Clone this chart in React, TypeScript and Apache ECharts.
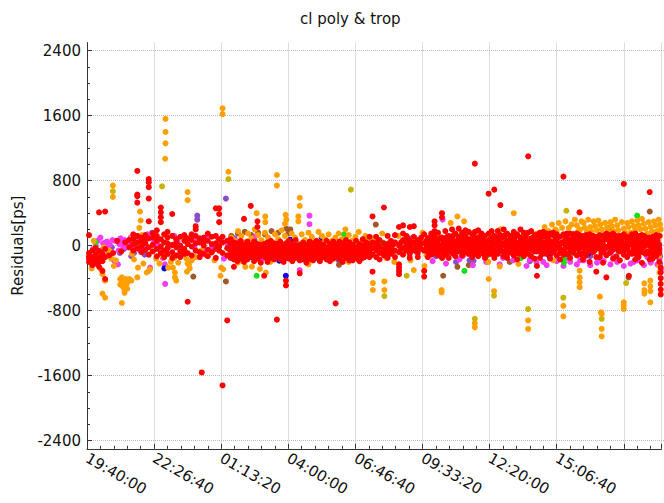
import React, { useEffect, useRef } from 'react';
import * as echarts from 'echarts';

const START_SEC = 19 * 3600 + 40 * 60;
const X_MAX = 85600;
const X_INTERVAL = 10000;
const TITLE = 'cl poly & trop';
const Y_NAME = 'Residuals[ps]';

// red: columns [time offset (s), residuals (ps)]
const redCols: [number, number[]][] = [
  [300, [130, -90, -160, -200, -130]], [800, [-60, -140, -240, -190]], [1300, [-110, -180, -30, -220]],
  [1800, [-150, -70, 410, -260, -200]], [2300, [-100, -190, -310, -150]], [2700, [420, -40, -140, -410]],
  [3300, [-120]], [3900, [-90]], [4500, [60]], [5100, [-70]], [5700, [40]],
  [6300, [70, -20]], [6900, [90, 20, -60, 140]], [7500, [920, 630, 610, 530, 120, 40, -30]],
  [8100, [60, -10, 100, -80]], [8700, [130, 30, -50, 80]], [9200, [820, 780, 720, 580, 300, 90, -20, -110]],
  [9800, [100, 10, -70, 150]], [10400, [60, -40, 120, -130, 190]], [11000, [470, 410, 350, 290, 80, -10, -90]],
  [11500, [140, 40, -60, -140]], [12000, [100, -30, 30, -100, 170]], [12700, [390, 120, 10, -80, -150]],
  [13300, [80, -20, -120, 40]], [13900, [110, 0, -70, -140]], [14500, [60, -40, 130, -100]],
  [15000, [20, -90, 90, -690]], [15600, [70, -10, -120, 140]], [16200, [120, 30, -60, 240, 200]],
  [16800, [40, -80, -140, 90]], [17100, [-1560]], [17400, [100, 0, -100, 50]], [18000, [60, -50, 150, -130]],
  [18600, [110, 20, -80]], [19200, [460, 30, -40, -150, 120]], [19700, [460, 390, 290, 80, -60, -10]],
  [20200, [-1720, 40, -90, 110]], [20900, [-920, 60, -30, -120]],
  [21400, [20, -60, -150, 80, -110]], [21900, [-260, -20, -100, 40, -170]], [22400, [-50, -130, 30, -190, -80]],
  [22900, [0, -80, -160, 60, -120]], [23400, [330, -40, -120, 10, -200]], [23900, [-10, -90, -170, 50, -60]],
  [24400, [490, 10, -70, -140, -30]], [24900, [-30, -110, 50, -190, -150]], [25400, [300, 230, -20, -90, -160, 20]],
  [25900, [-50, -130, 10, -210, -100]], [26400, [-370, 20, -60, -130, -20]], [26900, [-40, -120, 40, -200, -80]],
  [27400, [0, -80, -150, 60, -110]], [27900, [-30, -100, -170, 30, -60]], [28300, [-910, -50, -130, 20, -90]],
  [28800, [-20, -100, -170, 50, -140]], [29300, [-60, -140, 10, -200, -30]], [29650, [-430, -490, -60, -140, 30]],
  [30100, [-10, -90, 60, -160, -120]], [30600, [-40, -120, 20, -190, -70]], [31100, [0, -70, -150, 70, -110]],
  [31700, [-340, -30, -110, -180, 10]], [32200, [-20, -100, 40, -170, -60]], [32700, [-60, -140, 10, -210, -100]],
  [33200, [-10, -90, 50, -160, -40]], [33700, [-40, -120, 30, -80, -180]], [34200, [0, -80, -150, 60, -30]],
  [34700, [-30, -110, 40, -190, -70]], [35200, [-60, -140, 10, -100, -20]], [35700, [-20, -100, 60, -170, -130]],
  [36200, [-50, -130, 20, -80, -190]], [36700, [-10, -90, -160, 50, -40]], [37050, [-710, -50, -130, 20, -100]],
  [37600, [-10, -90, -160, 50, -60]], [38100, [-40, -120, 30, -200, -80]], [38600, [0, -80, 70, -150, -40]],
  [39100, [-30, -110, 40, -60, -180]], [39600, [-60, -140, 10, -180, -20]], [40100, [-20, -100, 60, -130, -60]],
  [40600, [-50, -130, 20, -190, 0]], [41100, [0, -80, 80, -150, -40]], [41600, [-30, -110, 40, -70]],
  [42100, [-60, -140, 20, 110]], [42550, [360, -30, -110, -320, 40]],
  [43100, [-60, -140, 20, 110, -20]], [43600, [-10, -90, 70, -170]], [44250, [470, -40, -120, 30, -70]],
  [44800, [20, -70, 120, -150]], [45300, [-20, -100, 60, -50]], [45900, [40, -60, -140, 130]],
  [46500, [230, -230, -270, -310, -350, 0, -80]], [47100, [250, 150, -30, -110, 70]], [47600, [20, -60, 120, -20]],
  [48100, [230, -20, -100, 60, -150]], [48700, [240, 40, -50, 110]], [49300, [-10, -90, 70, -140]],
  [49800, [30, -40, 100]], [50250, [-310, -380, 30, -60, 140]], [50800, [0, -80, 90, -140]],
  [51300, [60, -30, 150, -110, 10]], [51800, [300, 250, 180, 20, -70, 110]], [52300, [-40, 60, -120, 160, 0]],
  [52900, [400, 350, 10, -80, 100, -150]], [53400, [70, -20, 180, -110, 30]], [53900, [30, -60, 120, -150, -10]],
  [54400, [100, 0, 200, -90, 50]], [54900, [50, -40, 150, -130, -80]], [55400, [110, 20, -70, 210, -10]],
  [55900, [60, -30, 160, -120, 10]], [56400, [10, -80, 120, 190, -40]], [56900, [80, -20, 170, -100, 30]],
  [57400, [40, -60, 140, -140, -10]], [57800, [1010, 80, -20, 170, -90]], [58300, [100, 10, -80, 190, -130]],
  [58800, [60, -30, 150, -60, 0]], [59300, [20, -70, 120, -150, 50]], [59850, [640, 60, -30, 150, -100]],
  [60300, [90, 0, 180, -100, 30]], [60700, [690, 20, -70, 120, -150]], [61200, [90, 0, 180, -100, 40]],
  [61600, [500, 40, -60, 130, -20]], [62100, [110, 20, -80, 200, -130]], [62600, [60, -30, 150, -150, 0]],
  [63100, [10, -80, 120, -40, 70]], [63600, [80, -10, 170, -120, 30]], [64100, [40, -60, 140, -170, -20]],
  [64600, [100, 0, 200, -90, 50]], [65100, [60, -40, 160, -130, 10]], [65750, [1100, 50, -40, 160, -100]],
  [66200, [90, -20, 180, -130, 30]], [66700, [40, -70, 130, -160, 0]], [67050, [-370, -250, 30, -70, 130]],
  [67500, [70, -30, 160, -150, 20]], [68000, [20, -80, 120, 170, -40]], [68500, [100, 0, -100, 150, 50]],
  [69000, [50, -50, 150, -160, 10]], [69500, [130, 30, -70, 160, -20]], [70000, [80, -20, 140, -120, 40]],
  [70500, [20, -90, 110, -170, -40]], [71000, [850, 30, -60, 140, -110]], [71500, [110, 0, -100, 150, 50]],
  [72000, [60, -40, 150, -150, 10]], [72500, [120, 20, -80, 140, -30]], [73000, [70, -30, 150, -120, 30]],
  [73400, [410, 70, -30, 130, -90]], [73900, [10, -90, 120, -170, 40]], [74400, [90, -10, 130, -120, 30]],
  [74900, [40, -60, 140, -200, 0]], [75400, [100, 0, 120, -80, 50]], [75900, [-320, 100, 0, 110, -140]],
  [76400, [60, -40, 130, -140, 20]], [76900, [20, -80, 120, -210, -30]], [77400, [-390, 80, -20, 150, -120]],
  [77900, [110, 10, -90, 130, 40]], [78400, [50, -50, 150, -160, 0]], [78900, [90, -10, 120, -130, 40]],
  [79400, [30, -70, 120, -180, -20]], [80000, [760, 30, -70, 140, -110]], [80500, [70, -30, 110, -140, 20]],
  [80750, [-370]], [81200, [110, 10, -100, 140, 50]], [81700, [40, -60, 150, -170, -10]],
  [82200, [80, -20, 120, -140, 30]], [82700, [20, -80, 130, -210, -40]], [83200, [100, 0, -100, 110, 50]],
  [83850, [660, 100, 0, -100, -170]], [84300, [50, -50, 110, -160, 10]], [84800, [90, -20, -130, 130, 40]],
  [85300, [10, -90, -200, 120, -40]], [85500, [-270, -330, -400, -470, -540, -600]],
];

// red: additional interleaved columns inside the dense band
const redCols2: [number, number[]][] = [
  [21150, [-40, -120]], [21650, [-90, 10]], [22150, [-60, -140]], [22650, [-20, -110]], [23150, [-70, -150]],
  [23650, [-30, -100]], [24150, [-50, -130]], [24650, [-10, -90]], [25150, [-70, -140]], [25650, [-40, -110]],
  [26150, [-80, 0]], [26650, [-60, -150]], [27150, [-20, -100]], [27650, [-50, -130]], [28050, [-80, -10]],
  [28550, [-60, -120]], [29050, [-30, -100]], [29450, [-80, -160]], [29850, [-50, -120]], [30350, [-20, -140]],
  [30850, [-70, -100]], [31350, [-40, -130]], [31950, [-60, -150]], [32450, [-90, -30]], [32950, [-50, -120]],
  [33450, [-70, -140]], [33950, [-20, -100]], [34450, [-60, -130]], [34950, [-80, -10]], [35450, [-40, -110]],
  [35950, [-70, -160]], [36450, [-30, -100]], [36900, [-60, -140]], [37350, [-80, -20]], [37850, [-50, -130]],
  [38350, [-70, -110]], [38850, [-20, -120]], [39350, [-90, -40]], [39850, [-50, -130]], [40350, [-80, -160]],
  [40850, [-30, -110]], [41350, [-60, -140]], [41850, [-90, -20]],
  [43350, [-40, 50]], [44550, [-20, -90]], [45600, [10, -70]], [46800, [-40, 40]], [47850, [-10, 80]],
  [48400, [-60, 20]], [49050, [0, -70]], [49550, [50, -20]], [50550, [-30, 60]],
  [51050, [20, -60, 100]], [51550, [-20, 70]], [52050, [40, -90]], [52600, [-10, 90, -60]], [53150, [50, -40]],
  [53650, [0, 110, -80]], [54150, [70, -30]], [54650, [20, -100, 130]], [55150, [60, -20]], [55650, [-50, 90]],
  [56150, [30, -70, 120]], [56650, [-10, 80]], [57150, [60, -40]], [57600, [0, 120, -90]], [58050, [40, -60]],
  [58550, [110, -20]], [59050, [-40, 70, -100]], [59550, [30, -10]], [60050, [80, -60]], [60500, [-30, 50]],
  [60950, [110, -90, 20]], [61400, [60, -40]], [61850, [0, 100]], [62350, [-60, 40, 130]], [62850, [10, -90]],
  [63350, [80, -30]], [63850, [-60, 40, 110]], [64350, [0, -100]], [64850, [60, -40]], [65400, [110, -80, 20]],
  [65950, [40, -10]], [66450, [-60, 80]], [66900, [10, 120]], [67250, [-40, 60]], [67750, [100, -100]],
  [68250, [40, -20]], [68750, [-60, 80, 130]], [69250, [0, -90]], [69750, [60, -40]], [70250, [110, -10]],
  [70750, [40, -70]], [71250, [-30, 70, 120]], [71750, [20, -100]], [72250, [80, -50]], [72750, [0, 110]],
  [73200, [-40, 60]], [73650, [20, -110]], [74150, [90, -30]], [74650, [40, -80, 120]], [75150, [-20, 70]],
  [75650, [50, -60]], [76150, [110, -10]], [76650, [30, -90]], [77150, [80, -40]], [77650, [-10, 110]],
  [78150, [60, -70]], [78650, [0, 120]], [79150, [-60, 40]], [79700, [90, -20]], [80250, [-40, 110]],
  [80900, [20, -80, 60]], [81450, [90, -30]], [81950, [0, -110]], [82450, [60, -50]], [82950, [120, -10]],
  [83500, [-70, 40]], [84050, [80, -20]], [84550, [-100, 30]], [85050, [60, -60]],
];

const orangePts: [number, number][] = [
  [700, -280], [1000, 60], [1200, -40], [1500, -120], [1800, -200], [2100, -290], [2300, -350], [2700, -430],
  [2300, -590], [2700, -640], [2500, -20], [3000, -120], [3300, -60], [3600, -160], [4000, -250], [4300, -180],
  [3860, 740], [3860, 600], [4950, -410], [5200, -450], [5400, -510], [5600, -540], [5900, -470], [6100, -440],
  [6300, -410], [6600, -430], [5200, -390], [4950, -480], [5600, -580], [5700, -500], [5800, -410], [6000, -530],
  [5200, -705], [7600, -270], [7500, -390], [8900, -330], [9200, -310], [9400, -290], [8400, -220], [7000, -170],
  [6700, -100], [7900, 420], [8000, 310], [7800, 220], [8200, 130], [7400, 40], [6600, 90],
  [11700, 1560], [11700, 1400], [11700, 1260], [11650, 1070], [15000, 660], [15000, 560],
  [10300, -160], [10800, -220], [11200, -120], [12100, -270], [12500, -200], [12800, -270], [13000, -150],
  [13100, -330], [13100, -390], [13300, -430], [13600, -210], [14000, -120], [14800, -160], [14900, -320],
  [15000, -220], [15200, -230], [15300, -280], [15600, -180], [16200, -140], [17000, -60], [17800, -120],
  [18500, -90], [19000, -180], [20000, -270], [20300, -290], [19900, -370], [20200, 1690], [20200, 1620],
  [21070, 910],
  [21500, 100], [22000, 60], [22500, 180], [23000, 120], [23500, 40], [24000, 150], [24500, 90], [25000, 200],
  [25280, 400], [25500, 130], [26000, 70], [26500, 160], [26570, 360], [26570, 290], [27000, 100], [27500, 30],
  [28000, 140], [28300, 870], [28300, 740], [28500, 80], [29000, 190], [29500, 120], [29500, 270], [29600, 380],
  [29700, 320], [30000, 60], [30500, 150], [31000, 100], [31500, 20], [31500, 360], [31500, 300], [31700, 590],
  [31700, 490], [32000, 140], [32500, 70], [33000, 160], [33500, 110], [34000, 50], [34500, 170], [35000, 120],
  [35500, 80], [36000, 140], [36500, 60], [37000, 100], [37500, 150], [38000, 80], [38500, 200], [39000, 130],
  [39500, 60], [40000, 110], [40500, 170], [41000, 50], [41500, 120], [42000, 80],
  [22500, -210], [23600, -260], [24580, -258], [25770, -287], [26660, -330], [27300, -200], [33000, -230],
  [34800, -170], [39000, -200], [40500, -160], [42600, -460], [42600, -545],
  [42800, 100], [43500, -60], [44000, 150], [44320, -440], [44320, -545], [44600, -150], [45200, 50],
  [45800, -200], [46400, 120], [47000, -100], [47600, 30], [48200, -180], [48700, -300], [48800, 100],
  [49400, -50], [50000, 160], [50300, -250], [50600, -120], [51200, 70], [51800, -30], [52400, 130],
  [52840, -545], [52840, -575], [53000, -150], [53600, 50], [54200, 280], [54800, -60], [55200, 360],
  [55800, 120], [56200, 300], [56800, -100], [57400, 40], [57790, -955], [57790, -1005], [58000, 170],
  [58600, -60], [59200, 90], [59800, -200], [59860, -410], [60400, 130], [60660, -560], [61000, -30],
  [61500, -255], [61600, 200], [62200, -110], [62800, 80], [63600, 400],
  [64300, -225], [64800, 100], [65000, 120], [65740, -920], [65740, -1025], [66000, 60], [67000, 150],
  [68000, -30], [69000, 100], [69500, -180], [70000, 180], [70500, -80], [70990, -740], [70990, -870],
  [71000, 40], [71800, 220], [72000, -60], [72500, 150], [73000, 250], [73410, -308], [73410, -390],
  [73410, -450], [73410, -510], [73500, 200], [74000, 280], [74500, 170], [75000, 230], [75500, 300],
  [76000, 190], [76430, -627], [76500, 260], [76600, -820], [76700, -840], [76700, -1025], [76700, -1115],
  [77000, 140], [77500, 220], [78000, 290], [78500, 180], [79000, 250], [79500, 120], [79990, -697],
  [79990, -738], [79990, -779], [80000, 210], [80500, 280], [81000, 160], [81500, 240], [82000, 310],
  [82500, 200], [83000, 270], [83060, -463], [83060, -545], [83060, -590], [83500, 150], [83950, -430],
  [83950, -500], [83950, -560], [83950, -697], [84000, 230], [84500, 300], [85000, 180], [85400, 260],
  [85400, 120], [72800, 80], [73800, 100], [74800, 60], [75800, 90], [76800, 50], [77800, 110], [78800, 70],
  [79800, 40], [80800, 100], [81800, 60], [82800, 90], [83800, 40], [84800, 80], [85300, -120],
  [85300, -250], [85300, -330],
  [68200, 230], [68800, 180], [69300, 260], [69800, 200], [70300, 280], [70800, 220], [71300, 300],
  [72200, 260], [72700, 320], [73200, 180], [73700, 300], [74200, 220], [74700, 320], [75200, 170],
  [75700, 240], [76200, 310], [76700, 200], [77200, 280], [77700, 170], [78200, 240], [78700, 320],
  [79200, 190], [79700, 290], [80200, 160], [80700, 230], [81200, 300], [81700, 190], [82200, 250],
  [82700, 330], [83200, 210], [83700, 290], [84200, 180], [84700, 250], [85200, 320], [85500, 200],
];

const magentaPts: [number, number][] = [
  [500, -150], [900, -40], [1300, 0], [1600, 60], [2000, 100], [2400, 30], [2800, -30], [3200, -90],
  [3500, -120], [3800, 70], [4000, -180], [4300, -210], [4600, -230], [4800, 20], [5200, 40], [5600, 70],
  [5900, 10], [6000, -20], [6500, 100], [7200, 60], [7800, -50], [8400, 10], [9000, 140], [9400, -270],
  [9900, 30], [10000, 80], [10500, 20], [11000, -60], [11300, -150], [11600, -230], [11650, -470],
  [12000, -100], [12500, 0], [13000, 120], [13500, 50], [14000, -40], [14600, -110], [15000, 30],
  [15500, 80], [16000, -20], [16500, 60], [17000, 40], [17600, -70], [18000, 120], [18600, -20],
  [19000, -30], [19600, 70], [20000, 60], [20400, -160], [21000, 10],
  [3000, 50], [3400, 10], [4200, 60], [4700, -60], [5000, 90], [5400, -20], [6200, 30], [6800, -40],
  [7400, 120], [8000, 80],
  [22000, 70], [23500, -120], [25000, 110], [26000, -170], [31700, -300], [33150, 370], [33150, 265],
  [36000, -60], [40000, -150], [42500, 60], [51000, -100], [53000, 320], [54000, -80], [56000, -130],
  [58000, -60], [60000, -100], [62000, -150], [64000, -80], [65000, -120], [66000, -170], [67500, -40],
  [68000, -200], [69000, -130], [70000, -60], [71500, -150], [72500, -90], [73500, -180], [74500, -120],
  [75500, -40], [76500, -160], [77500, -100], [78500, -140], [79500, -60], [80500, -120], [81500, -200],
  [82500, -80], [83500, -140], [84500, -100], [85300, -160], [85300, -60],
  [51500, -190], [53500, -220], [55500, -170], [57500, -240], [59500, -200], [61500, -230], [63500, -180],
  [65500, -250], [67000, -210], [68500, -240], [70000, -190], [71000, -250], [72000, -200], [73000, -230],
  [74000, -180], [75000, -240], [76000, -210], [77000, -190], [78000, -230], [79000, -200], [80000, -250],
  [81000, -220], [82000, -180], [83000, -240], [84000, -210], [85000, -230], [85500, -300],
];

const purplePts: [number, number][] = [
  [1500, -100], [2000, -60], [2800, 40], [3300, -120], [4500, 60], [5500, -40], [7000, -90], [8100, 50],
  [3700, -20], [4900, -90], [6000, 60], [6600, -130], [8600, -110],
  [9700, 160], [10500, -20], [11200, -80], [16430, 370], [16430, 320], [20700, 580], [22000, 90],
  [25000, 60], [28000, 20], [33000, -190], [37500, -180], [42000, 80], [45000, 30], [48000, 90],
  [52000, -130], [55000, -200], [57000, -180], [57600, -185], [58700, -60], [62000, -120], [66000, -190],
  [68000, -100], [72000, 30], [75000, -130], [78000, -60], [80000, 0], [82000, -120], [84000, -200],
  [85400, -220], [85400, -130],
];

const brownPts: [number, number][] = [
  [1240, -40], [1400, -70], [15840, -380], [20700, -440], [19800, 30], [21500, 120], [22500, 150],
  [23500, 170], [24500, 130], [25500, 160], [26500, 140], [27500, 180], [28500, 160], [29700, 210],
  [30300, 200], [30000, 150], [37550, -235], [43030, 260], [47000, -40], [53080, -370], [55200, -260],
  [56900, -240], [59000, -20], [63000, -200], [69500, 100], [78000, 230], [80700, -390], [83860, 420],
  [85000, 40],
];

const greenPts: [number, number][] = [
  [1240, 40], [25280, -370], [38300, 140], [44000, 40], [56240, -310], [59520, -130], [64700, -150],
  [71080, -160], [71080, -210], [72000, -100], [81980, 370],
];

const bluePts: [number, number][] = [
  [11530, -280], [21300, 60], [28650, -185], [29630, -370], [30280, 74], [34980, 100], [68900, -123],
  [74650, -100],
];

const olivePts: [number, number][] = [
  [3860, 670], [11190, 730], [21070, 820], [39330, 690], [44320, -620], [47640, -370], [57790, -900],
  [60660, -615], [65740, -780], [70990, -640], [71430, 430], [76700, -900], [80340, -460],
];

const FONT = 'DejaVu Sans';

function fmtTime(v: number): string {
  if (v > 75000) return '';
  const t = (((START_SEC + v) % 86400) + 86400) % 86400;
  const h = Math.floor(t / 3600);
  const m = Math.floor((t % 3600) / 60);
  const s = Math.round(t % 60);
  const p = (n: number) => (n < 10 ? '0' + n : '' + n);
  return `${p(h)}:${p(m)}:${p(s)}`;
}

function mk(name: string, color: string, data: [number, number][]) {
  return {
    name,
    type: 'scatter',
    xAxisIndex: 0,
    yAxisIndex: 0,
    symbol: 'circle',
    symbolSize: 6,
    silent: true,
    itemStyle: { color, opacity: 1 },
    emphasis: { disabled: true },
    data,
  };
}

const expand = (cols: [number, number[]][]) =>
  cols.flatMap(([x, ys]) => ys.map((y) => [x, y] as [number, number]));

export default function App() {
  const ref = useRef<HTMLDivElement>(null);
  useEffect(() => {
    if (!ref.current) return;
    const chart = echarts.init(ref.current, null, { renderer: 'svg' });
    const redPts: [number, number][] = [...expand(redCols), ...expand(redCols2)];
    const axisColor = '#333';
    const gridLine = { show: true, lineStyle: { type: 'dotted', color: '#bdbdbd', width: 1 } };
    chart.setOption({
      animation: false,
      backgroundColor: '#fff',
      title: {
        text: TITLE,
        left: 295,
        top: 6,
        textStyle: { fontSize: 15, fontWeight: 'normal', color: '#111', fontFamily: FONT },
      },
      grid: [
        { left: 87, right: 0, top: 42.6, bottom: 54.2 },
        { left: 87, right: 0, top: 50.7, bottom: 62.3 },
      ],
      xAxis: [
        {
          gridIndex: 0,
          type: 'value',
          min: 0,
          max: X_MAX,
          interval: X_INTERVAL,
          axisLine: { show: true, onZero: false, lineStyle: { color: axisColor, width: 1 } },
          axisTick: { show: true, inside: true, length: 5, lineStyle: { color: axisColor } },
          minorTick: { show: true, splitNumber: 5, length: 3, lineStyle: { color: axisColor } },
          splitLine: gridLine,
          axisLabel: { rotate: -30, formatter: fmtTime, fontSize: 15, color: '#111', margin: 8, fontFamily: FONT },
        },
        { gridIndex: 1, type: 'value', min: 0, max: X_MAX, show: false },
      ],
      yAxis: [
        {
          gridIndex: 0,
          type: 'value',
          min: -2500,
          max: 2500,
          axisLine: { show: true, onZero: false, lineStyle: { color: axisColor, width: 1 } },
          axisTick: { show: false },
          axisLabel: { show: false },
          splitLine: { show: false },
          name: Y_NAME,
          nameLocation: 'middle',
          nameGap: 62,
          nameTextStyle: { fontSize: 15, color: '#111', fontFamily: FONT },
        },
        {
          gridIndex: 1,
          type: 'value',
          min: -2400,
          max: 2400,
          interval: 800,
          axisLine: { show: false, onZero: false },
          axisTick: { show: true, inside: true, length: 5, lineStyle: { color: axisColor } },
          minorTick: { show: true, splitNumber: 4, length: 3, lineStyle: { color: axisColor } },
          splitLine: gridLine,
          axisLabel: { fontSize: 15, color: '#111', margin: 6, fontFamily: FONT, formatter: (v: number) => String(v) },
        },
      ],
      series: [
        mk('purple', '#8a4cc8', purplePts),
        mk('brown', '#a0582a', brownPts),
        mk('magenta', '#f23cf2', magentaPts),
        mk('green', '#12e012', greenPts),
        mk('blue', '#0000ee', bluePts),
        mk('orange', '#ffa000', orangePts),
        mk('olive', '#c8b400', olivePts),
        mk('red', '#ff0000', redPts),
      ],
    });
    return () => chart.dispose();
  }, []);
  return <div ref={ref} style={{ position: 'fixed', left: 0, top: 0, width: 664, height: 503 }} />;
}
